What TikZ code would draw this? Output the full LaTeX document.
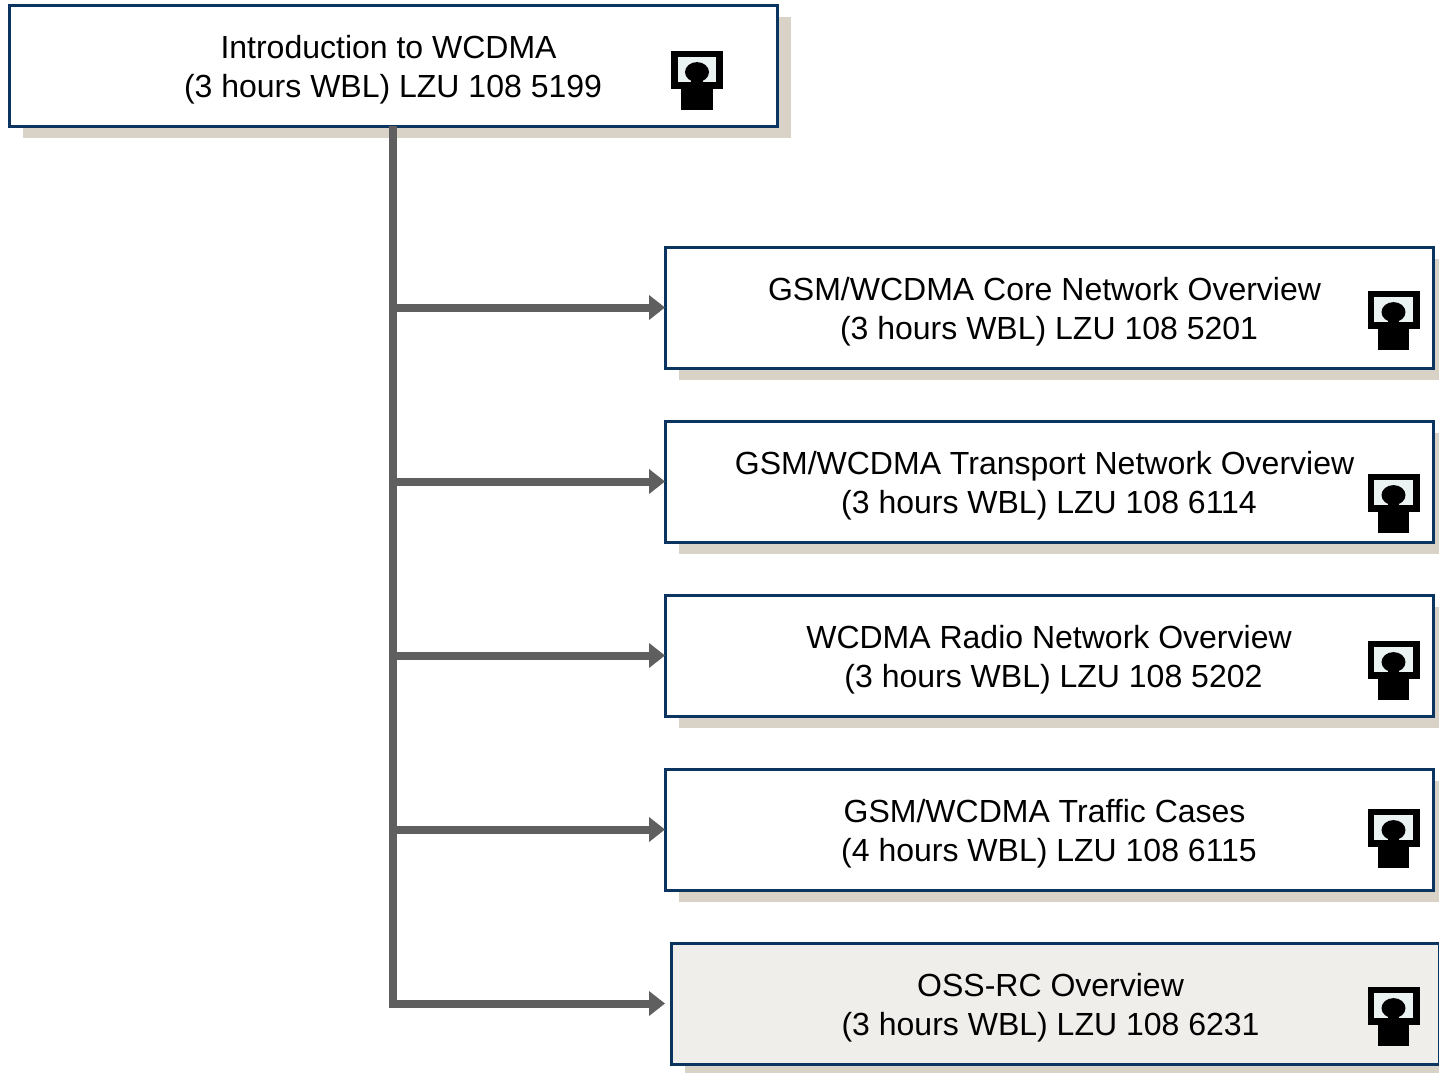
\documentclass[tikz,border=0pt]{standalone}
\usepackage{fontspec}
\setmainfont{Liberation Sans}
\usetikzlibrary{arrows.meta,positioning,shadows}
\definecolor{framecol}{HTML}{0B3560}
\definecolor{shadowcol}{HTML}{D9D3C7}
\definecolor{linecol}{HTML}{5F5F5F}
\definecolor{greycol}{HTML}{F0EEEB}
\definecolor{screencol}{HTML}{EAF2F2}
\newcommand{\tsp}{\hspace*{.278em}}
\tikzset{
  course/.style={draw=framecol,line width=1.5pt,fill=white,rectangle,inner sep=0pt,outer sep=0pt,
    minimum width=384pt,minimum height=60.5pt,align=center,text height=35.5pt,
    font=\fontsize{16pt}{19.4pt}\selectfont,
    drop shadow={shadow xshift=7pt,shadow yshift=-6pt,fill=shadowcol,opacity=1}},
  pics/presenter/.style={code={
    \fill[black] (-13pt,0pt) rectangle (13pt,-19.3pt);
    \fill[screencol] (-9.6pt,-3.3pt) rectangle (9.6pt,-15.8pt);
    \fill[black] (0pt,-10.8pt) ellipse [x radius=6pt,y radius=5pt];
    \fill[black] (-2.8pt,-13pt) rectangle (2.8pt,-19.3pt);
    \fill[black] (-7.9pt,-19.3pt) rectangle (7.9pt,-29.5pt);
  }}
}
\begin{document}
\begin{tikzpicture}[>={Triangle[length=8pt,width=12pt]},node distance=87pt,on grid]
    \useasboundingbox (0pt,0pt) rectangle (719.5pt,-536pt);

    \node[course] (intro) at (196.5pt,-32.75pt) {Introduction to WCDMA\tsp\\(3 hours WBL) LZU 108 5199};
    \node[course] (core) [below right=121pt and 328pt of intro] {GSM/WCDMA Core Network Overview\tsp\\(3 hours WBL) LZU 108 5201};
    \node[course] (transport) [below=of core] {GSM/WCDMA Transport Network Overview\tsp\\(3 hours WBL) LZU 108 6114};
    \node[course] (radio) [below=of transport] {WCDMA Radio Network Overview\\\tsp(3 hours WBL) LZU 108 5202};
    \node[course] (traffic) [below=of radio] {GSM/WCDMA Traffic Cases\tsp\\(4 hours WBL) LZU 108 6115};
    \node[course,fill=greycol] (oss) [below=of traffic,xshift=3pt] {OSS-RC Overview\tsp\\(3 hours WBL) LZU 108 6231\tsp};

    \pic at ([shift={(-40pt,-22.75pt)}]intro.north east) {presenter};
    \pic at ([shift={(-19.75pt,-21.75pt)}]core.north east) {presenter};
    \pic at ([shift={(-19.75pt,-26.25pt)}]transport.north east) {presenter};
    \pic at ([shift={(-19.75pt,-22.75pt)}]radio.north east) {presenter};
    \pic at ([shift={(-19.75pt,-19.75pt)}]traffic.north east) {presenter};
    \pic at ([shift={(-22.75pt,-21.75pt)}]oss.north east) {presenter};

    \path[->,color=linecol,line width=4pt]
    (intro.south |- core.west) edge (core.west)
    (intro.south |- transport.west) edge (transport.west)
    (intro.south |- radio.west) edge (radio.west)
    (intro.south |- traffic.west) edge (traffic.west)
    (intro.south) edge [to path={|- (\tikztotarget)},shorten >=3pt] (oss.west);
\end{tikzpicture}
\end{document}
